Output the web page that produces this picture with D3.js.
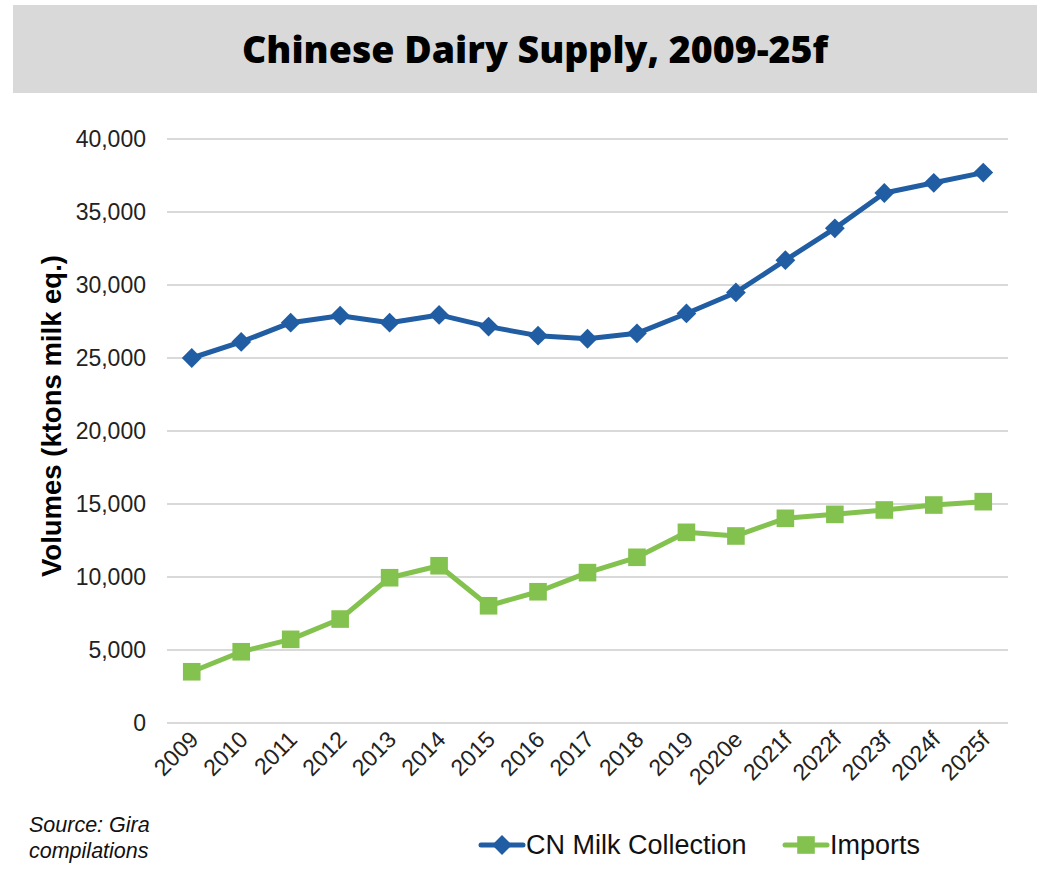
<!DOCTYPE html>
<html>
<head>
<meta charset="utf-8">
<script src="https://cdn.jsdelivr.net/npm/d3@7"></script>
<style>
  body { margin: 0; background: #fff; }
  svg { display: block; }
</style>
</head>
<body>
<div id="chart"></div>
<script>
// data
const years = ["2009", "2010", "2011", "2012", "2013", "2014", "2015", "2016", "2017",
  "2018", "2019", "2020e", "2021f", "2022f", "2023f", "2024f", "2025f"];
const milkCollection = [25000, 26100, 27420, 27900, 27420, 27950, 27150, 26530, 26320,
  26690, 28050, 29490, 31700, 33880, 36300, 37000, 37700];
const imports = [3510, 4880, 5730, 7120, 9950, 10770, 8030, 8990, 10300,
  11350, 13060, 12810, 14020, 14290, 14590, 14930, 15160];
const yTicks = [0, 5000, 10000, 15000, 20000, 25000, 30000, 35000, 40000];

const W = 1051, H = 879,
  blue = "#215da3",
  green = "#83c24f",
  grid = "#d9d9d9";

const svg = d3.select("#chart").append("svg")
  .attr("width", W)
  .attr("height", H);

// title band
svg.append("rect")
  .attr("x", 13).attr("y", 5)
  .attr("width", 1024).attr("height", 88)
  .attr("fill", "#d9d9d9");
svg.append("text")
  .attr("x", 535).attr("y", 63)
  .attr("text-anchor", "middle")
  .style("font-family", "'Open Sans', sans-serif")
  .style("font-weight", 800)
  .style("font-size", "37.5px")
  .text("Chinese Dairy Supply, 2009-25f");

const plot = { left: 167, right: 1008, top: 139, bottom: 723 };

const x = d3.scalePoint()
  .domain(years)
  .range([plot.left, plot.right])
  .padding(0.5);

const y = d3.scaleLinear()
  .domain([0, 40000])
  .range([plot.bottom, plot.top]);

// gridlines
svg.append("g")
  .selectAll("line")
  .data(yTicks)
  .enter()
  .append("line")
  .attr("x1", plot.left).attr("x2", plot.right)
  .attr("y1", (d) => y(d)).attr("y2", (d) => y(d))
  .attr("stroke", grid)
  .attr("stroke-width", 2);

// y axis labels
const fmt = d3.format(",");
svg.append("g")
  .selectAll("text")
  .data(yTicks)
  .enter()
  .append("text")
  .attr("x", 146)
  .attr("y", (d) => y(d))
  .attr("dy", "0.35em")
  .attr("text-anchor", "end")
  .style("font-family", "'Liberation Sans', Arial, sans-serif")
  .style("font-size", "23px")
  .style("fill", "#222")
  .text((d) => fmt(d));

// x axis labels, rotated
svg.append("g")
  .selectAll("text")
  .data(years)
  .enter()
  .append("text")
  .attr("transform", (d) => "translate(" + (x(d) + 8) + "," + 741 + ") rotate(-45)")
  .attr("text-anchor", "end")
  .style("font-family", "'Liberation Sans', Arial, sans-serif")
  .style("font-size", "23px")
  .style("fill", "#222")
  .text((d) => d);

// y axis title
svg.append("text")
  .attr("transform", "translate(61," + 416 + ") rotate(-90)")
  .attr("text-anchor", "middle")
  .style("font-family", "'Liberation Sans', Arial, sans-serif")
  .style("font-weight", "bold")
  .style("font-size", "27.5px")
  .text("Volumes (ktons milk eq.)");

const line = d3.line()
  .x((d, i) => x(years[i]))
  .y((d) => y(d));

// series
const diamond = d3.symbol().type(d3.symbolDiamond2).size(250);
const square = d3.symbol().type(d3.symbolSquare).size(310);

function drawSeries(values, color, sym) {
  svg.append("path")
    .datum(values)
    .attr("d", line)
    .attr("fill", "none")
    .attr("stroke", color)
    .attr("stroke-width", 5)
    .attr("stroke-linejoin", "round");
  svg.append("g")
    .selectAll("path")
    .data(values)
    .enter()
    .append("path")
    .attr("d", sym)
    .attr("transform", (d, i) => "translate(" + x(years[i]) + "," + y(d) + ")")
    .attr("fill", color);
}
drawSeries(milkCollection, blue, diamond);
drawSeries(imports, green, square);

// legend
const legendItems = [
  { name: "CN Milk Collection", color: blue, sym: diamond, x: 481 },
  { name: "Imports", color: green, sym: square, x: 785 }
];
const legend = svg.append("g").attr("id", "legend");
legendItems.forEach((it) => {
  legend.append("line")
    .attr("x1", it.x).attr("x2", it.x + 42)
    .attr("y1", 845).attr("y2", 845)
    .attr("stroke", it.color)
    .attr("stroke-width", 5)
    .attr("stroke-linecap", "round");
  legend.append("path")
    .attr("d", it.sym)
    .attr("transform", "translate(" + (it.x + 21) + ",845)")
    .attr("fill", it.color);
  legend.append("text")
    .attr("x", it.x + 45).attr("y", 845)
    .attr("dy", "0.35em")
    .style("font-family", "'Liberation Sans', Arial, sans-serif")
    .style("font-size", "27px")
    .style("fill", "#111")
    .text(it.name);
});

// source note
const src = svg.append("text")
  .style("font-family", "'Liberation Sans', Arial, sans-serif")
  .style("font-style", "italic")
  .style("font-size", "21.5px")
  .style("fill", "#111");
src.append("tspan").attr("x", 29).attr("y", 832).text("Source: Gira");
src.append("tspan").attr("x", 29).attr("y", 858).text("compilations");
</script>
</body>
</html>
